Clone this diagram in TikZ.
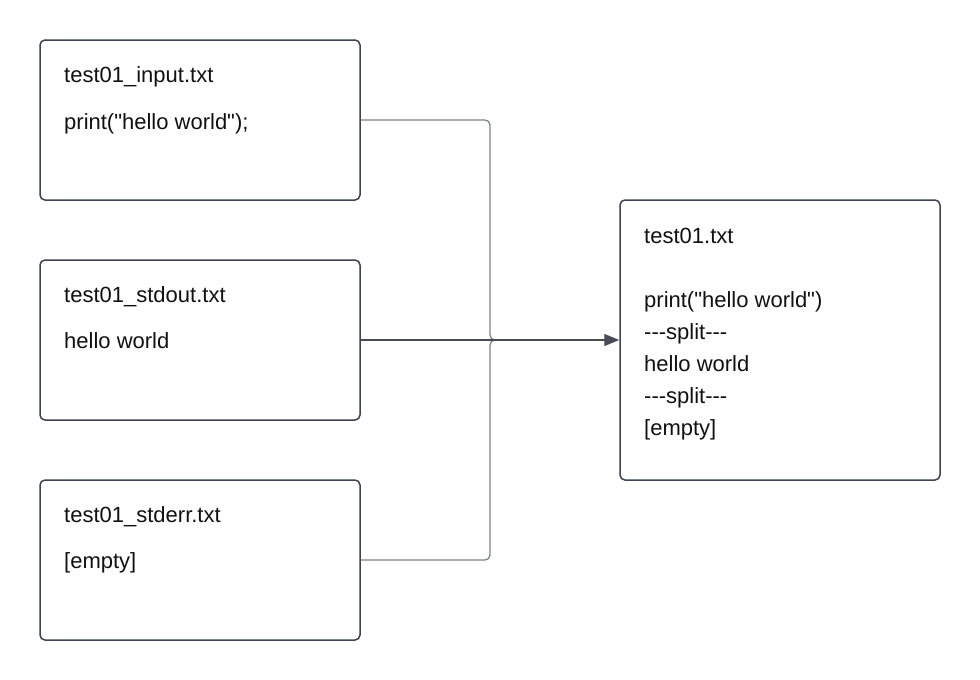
\documentclass[tikz,border=0pt]{standalone}
\usepackage{fontspec}
\setmainfont{Liberation Sans}[Ligatures=TeXOff]
\usetikzlibrary{arrows.meta}
\definecolor{boxline}{HTML}{3D4350}
\definecolor{conn}{HTML}{7E828A}
\definecolor{connd}{HTML}{474C55}
\definecolor{txt}{HTML}{111111}
\tikzset{
  filebox/.style={draw=boxline, line width=1.5pt, rounded corners=5pt, minimum width=320pt, inner sep=0pt},
  lbl/.style={anchor=base west, inner sep=0pt, text=txt, font=\fontsize{22}{26}\selectfont},
  feed/.style={draw=conn, line width=1.3pt, rounded corners=5pt},
  mainconn/.style={draw=connd, line width=1.3pt, -{Triangle[length=15pt,width=12pt]}}
}
\begin{document}
\begin{tikzpicture}[x=1pt,y=-1pt]
\useasboundingbox (0,0) rectangle (980,680);
\node[filebox, minimum height=160pt] (in) at (200,120) {};
\node[filebox, minimum height=160pt] (so) at (200,340) {};
\node[filebox, minimum height=160pt] (se) at (200,560) {};
\node[filebox, minimum height=280pt] (res) at (780,340) {};

\node[lbl] (t1) at (64,82) {test01\_input.txt};
\node[lbl] (t2) at (64,129) {print("hello world");};
\node[lbl] (t3) at (64,302) {test01\_stdout.txt};
\node[lbl] (t4) at (64,348) {hello world};
\node[lbl] (t5) at (64,522) {test01\_stderr.txt};
\node[lbl] (t6) at (64,568) {[empty]};

\node[lbl] (r1) at (644,243) {test01.txt};
\node[lbl] (r2) at (644,307) {print("hello world")};
\node[lbl] (r3) at (644,339) {---split---};
\node[lbl] (r4) at (644,371) {hello world};
\node[lbl] (r5) at (644,403) {---split---};
\node[lbl] (r6) at (644,435) {[empty]};

\coordinate (j) at (490,340);
\coordinate (jend) at (600,340);
\draw[feed] (in.east) -| (j) -- (jend);
\draw[feed] (se.east) -| (j) -- (jend);
\draw[mainconn] (so.east) -- (res.west);
\end{tikzpicture}
\end{document}
